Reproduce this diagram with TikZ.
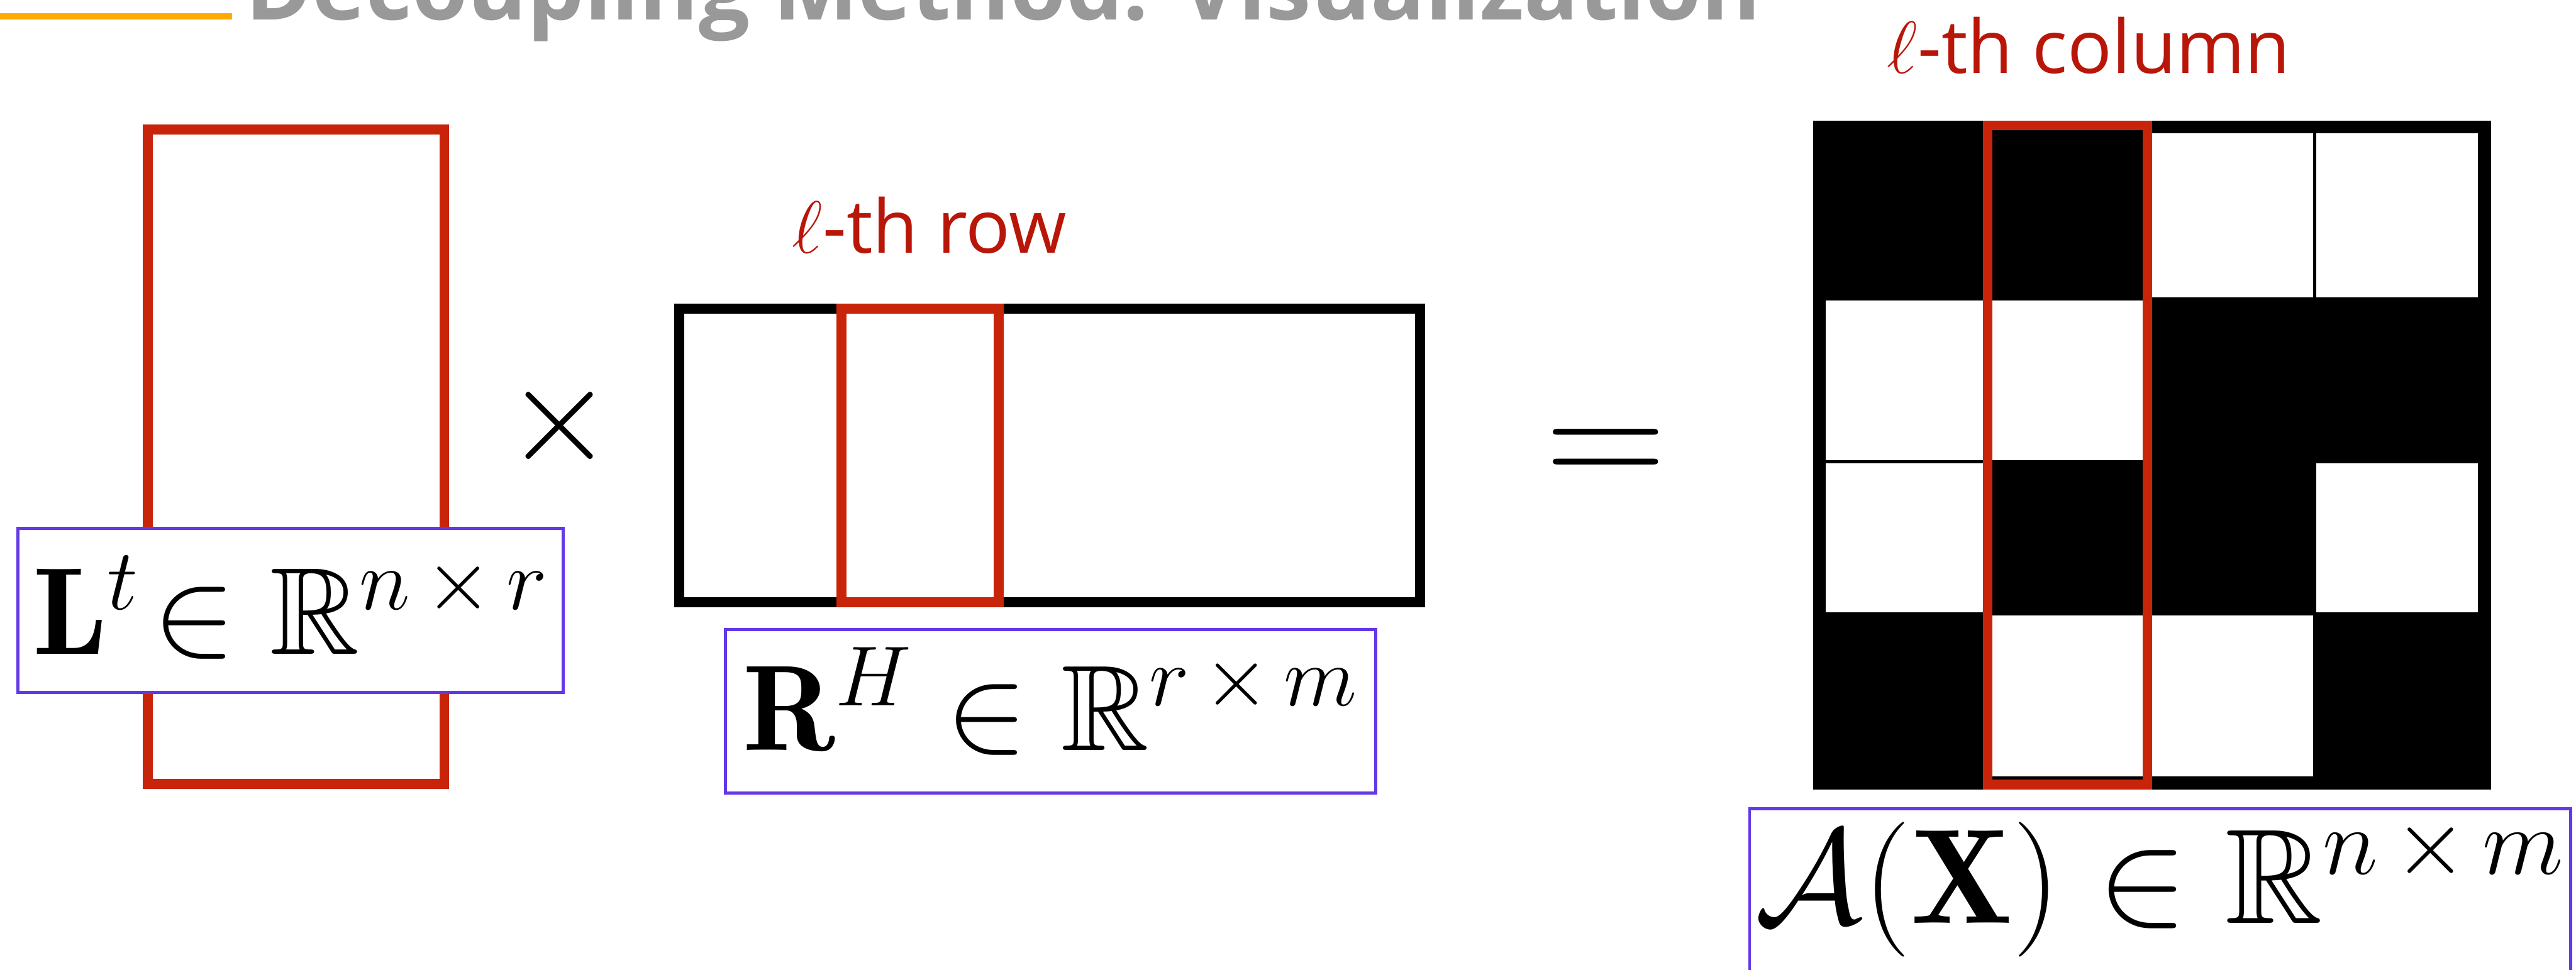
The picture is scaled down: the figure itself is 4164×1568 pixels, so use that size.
\RequirePackage{fix-cm}
\documentclass[tikz,border=0pt]{standalone}
\usepackage{amsmath,amssymb}
\usepackage{fontspec}
\newfontfamily\labelfont{Open Sans}
\definecolor{accentOrange}{RGB}{255,170,0}
\definecolor{titleGray}{RGB}{153,153,153}
\definecolor{markRed}{RGB}{200,36,10}
\definecolor{textRed}{RGB}{185,22,10}
\definecolor{boxPurple}{RGB}{98,56,232}
\usetikzlibrary{positioning}

\begin{document}
\begin{tikzpicture}[
    x=0.01cm, y=-0.01cm,
    redframe/.style={rectangle, draw=markRed, line width=0.16cm, inner sep=0pt},
    blackframe/.style={rectangle, draw=black, line width=0.16cm, inner sep=0pt},
    lbl/.style={rectangle, draw=boxPurple, fill=white, line width=0.05cm, inner sep=0pt},
    tag/.style={font=\labelfont\fontsize{34}{40}\selectfont, text=textRed, inner sep=0pt, anchor=base west},
    cell/.style={fill=white, draw=black, line width=0.05cm},
  ]
  \useasboundingbox (0,0) rectangle (4164,1568);

  % Title (cut off at the top)
  \draw[accentOrange, line width=0.11cm] (0,26.5) -- (375,26.5);
  \node[font=\labelfont\bfseries\fontsize{41.5}{48}\selectfont, text=titleGray,
    inner sep=0pt, anchor=base west] (title) at (396,32) {Decoupling Method: Visualization};

  % Left factor
  \node[redframe, minimum width=4.79cm, minimum height=10.57cm] (Lmat) at (478.5,738.5) {};
  \node[lbl, minimum width=8.81cm, text height=2.035cm, text depth=0.615cm,
    font=\fontsize{57}{60}\selectfont] (Llbl) at (470,987) {$\mathbf{L}^t\!\in\mathbb{R}^{n\,\times\,r}$};

  % Product sign
  \node[font=\fontsize{64}{70}\selectfont, inner sep=0pt] (times) at (904,688) {$\times$};

  % Right factor
  \node[blackframe, minimum width=11.97cm, minimum height=4.75cm] (Rmat) at (1696.5,736.5) {};
  \node[redframe, minimum width=2.54cm, minimum height=4.75cm] (Rrow) at (1487,736.5) {};
  \node[tag] (rowtag) at (1280,409) {$\ell$-th row};
  \node[lbl, minimum width=10.51cm, text height=1.945cm, text depth=0.695cm,
    font=\fontsize{56}{60}\selectfont] (Rlbl) at (1698,1150.5) {$\mathbf{R}^H\in\mathbb{R}^{r\,\times\,m}$};

  % Equal sign
  \node[font=\fontsize{77}{80}\selectfont, inner sep=0pt] (equal) at (2596,742) {$=$};

  % Mask matrix
  \node[rectangle, fill=black, draw=black, line width=0.18cm, inner sep=0pt,
    minimum width=10.77cm, minimum height=10.63cm] (Amat) at (3478.5,735.5) {};
  \foreach \xl/\yt/\xr/\yb in {3476/213/3742/483, 3742/213/4008/483,
      2949/483/3213/747, 3213/483/3476/747, 2949/747/3213/993,
      3742/747/4008/993, 3213/993/3476/1258, 3476/993/3742/1258}
    \draw[cell] (\xl,\yt) rectangle (\xr,\yb);
  \node[redframe, minimum width=2.58cm, minimum height=10.65cm] (Acol) at (3342,735.5) {};
  \node[tag] (coltag) at (3050,118) {$\ell$-th column};
  \node[lbl, minimum width=13.26cm, text height=1.855cm, text depth=0.795cm,
    font=\fontsize{62}{66}\selectfont] (Albl) at (3491.5,1440) {$\mathcal{A}(\mathbf{X})\in\mathbb{R}^{n\,\times\,m}$};
\end{tikzpicture}
\end{document}
